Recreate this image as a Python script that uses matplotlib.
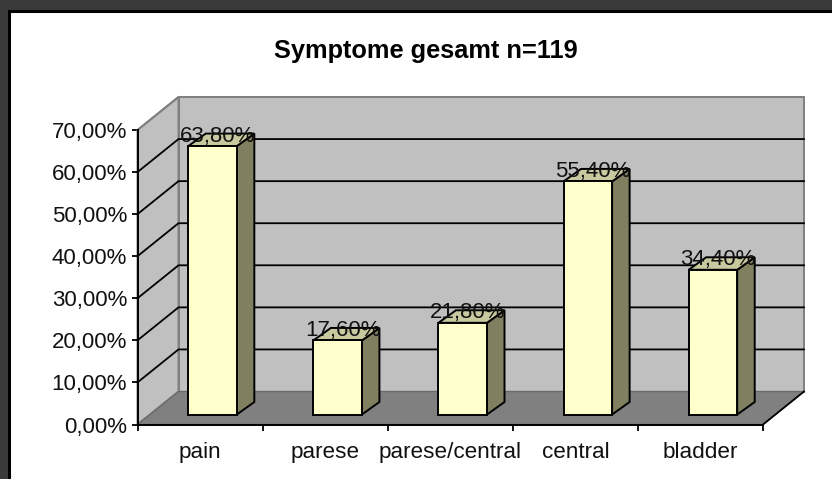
import matplotlib
matplotlib.use('Agg')
import matplotlib.pyplot as plt
from matplotlib.patches import Polygon, Rectangle

plt.rcParams['font.family'] = ['Liberation Sans', 'DejaVu Sans']

# values
categories = ['pain', 'parese', 'parese/central', 'central', 'bladder']
values = [63.8, 17.6, 21.8, 55.4, 34.4]
value_labels = ['63,80%', '17,60%', '21,80%', '55,40%', '34,40%']
y_ticks = [0, 10, 20, 30, 40, 50, 60, 70]
y_tick_labels = ['0,00%', '10,00%', '20,00%', '30,00%', '40,00%', '50,00%', '60,00%', '70,00%']
title = 'Symptome gesamt n=119'

W, H = 832, 479
fig = plt.figure(figsize=(W / 100, H / 100), dpi=100, facecolor='#3a3a3a')

# white chart panel with black border
fig.add_artist(Rectangle((8.5 / W, -0.01), 1, 1 - 10.5 / H + 0.01, transform=fig.transFigure,
                         facecolor='white', edgecolor='black', linewidth=2.2, zorder=-1))

# axes = front plane of the 3d box
left, right, top, bottom = 137.5, 763, 130, 424.5
ax = fig.add_axes([left / W, 1 - bottom / H, (right - left) / W, (bottom - top) / H])
ax.set_xlim(0, len(categories))
ax.set_ylim(0, 70)
ax.patch.set_visible(False)

# depth of the box and the bars, in data units
dx = 41 / ((right - left) / 5)
dy = 33 / ((bottom - top) / 70)
bar_w = 0.388
bar_dx = 17.5 / ((right - left) / 5)
bar_dy = 12.5 / ((bottom - top) / 70)
off_x = 12.5 / ((right - left) / 5)
off_y = 10 / ((bottom - top) / 70)

n = len(categories)
wall = '#c0c0c0'
floor = '#808080'

ax.add_patch(Polygon([(dx, dy), (n + dx, dy), (n + dx, 70 + dy), (dx, 70 + dy)],
                     facecolor=wall, edgecolor='#808080', linewidth=1.4, clip_on=False, zorder=1))
ax.add_patch(Polygon([(0, 0), (dx, dy), (dx, 70 + dy), (0, 70)],
                     facecolor=wall, edgecolor='#808080', linewidth=1.4, clip_on=False, zorder=1))
ax.add_patch(Polygon([(0, 0), (n, 0), (n + dx, dy), (dx, dy)],
                     facecolor=floor, edgecolor='#6a6a6a', linewidth=1, clip_on=False, zorder=1))

# gridlines run along the side wall and the back wall
for t in y_ticks[1:-1]:
    ax.plot([0, dx, n + dx], [t, t + dy, t + dy], color='black', lw=1.3, clip_on=False, zorder=2,
            solid_joinstyle='miter')
ax.plot([dx, n + dx], [70 + dy, 70 + dy], color='#808080', lw=1.4, clip_on=False, zorder=2)
ax.plot([0, dx], [70, 70 + dy], color='#808080', lw=1.4, clip_on=False, zorder=2)
ax.plot([n, n + dx], [0, dy], color='black', lw=1.3, clip_on=False, zorder=2)

# bars
for i, v in enumerate(values):
    x0 = i + 0.5 - bar_w / 2 + off_x
    x1 = x0 + bar_w
    y0 = off_y
    y1 = off_y + v
    ax.add_patch(Polygon([(x1, y0), (x1 + bar_dx, y0 + bar_dy), (x1 + bar_dx, y1 + bar_dy), (x1, y1)],
                         facecolor='#808060', edgecolor='black', linewidth=1.4, zorder=3, clip_on=False))
    ax.add_patch(Polygon([(x0, y1), (x1, y1), (x1 + bar_dx, y1 + bar_dy), (x0 + bar_dx, y1 + bar_dy)],
                         facecolor='#c9c9a0', edgecolor='black', linewidth=1.4, zorder=3, clip_on=False))
    ax.add_patch(Polygon([(x0, y0), (x1, y0), (x1, y1), (x0, y1)],
                         facecolor='#ffffcc', edgecolor='black', linewidth=1.4, zorder=4, clip_on=False))
    ax.text(i + 0.5 + off_x + 0.04, y1 + bar_dy - 0.6, value_labels[i], ha='center', va='center',
            fontsize=16, color='#111111', zorder=5, clip_on=False)

# axes lines, ticks, labels
for s in ['top', 'right']:
    ax.spines[s].set_visible(False)
for s in ['left', 'bottom']:
    ax.spines[s].set_linewidth(1.4)
    ax.spines[s].set_zorder(6)
ax.set_yticks(y_ticks)
ax.set_yticklabels(y_tick_labels, fontsize=16, color='#111111')
ax.set_xticks(range(n + 1))
ax.set_xticklabels([])
ax.set_xticks([i + 0.5 for i in range(n)], minor=True)
ax.set_xticklabels(categories, minor=True, fontsize=16.2, color='#111111')
ax.tick_params(axis='x', which='major', length=4, width=1.3, direction='out')
ax.tick_params(axis='x', which='minor', length=0, pad=12.5)
ax.tick_params(axis='y', length=4, width=1.3, pad=3.5)

fig.text(426 / W, 1 - 51 / H, title, ha='center', va='center', fontsize=18.3, fontweight='bold',
         color='black')

fig.savefig('out.png', dpi=100, facecolor=fig.get_facecolor())
